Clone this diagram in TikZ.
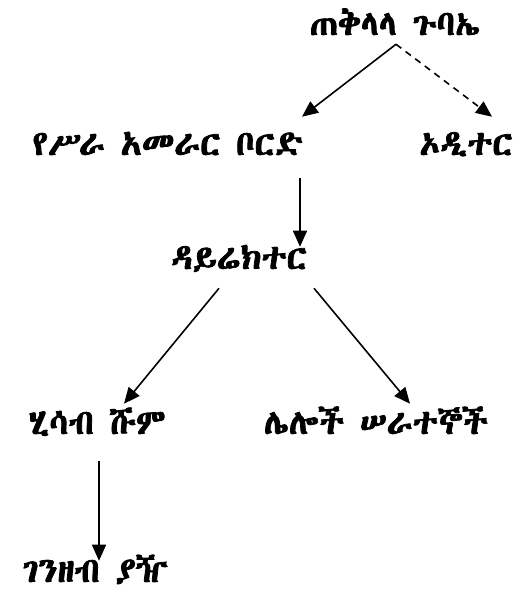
\documentclass[tikz,border=0pt]{standalone}
\usepackage{fontspec}
\usetikzlibrary{arrows.meta,calc}
\IfFontExistsTF{Abyssinica SIL}{\newfontfamily\geez{Abyssinica SIL}[FakeBold=2.2]}{%
\IfFontExistsTF{Noto Sans Ethiopic}{\newfontfamily\geez{Noto Sans Ethiopic}[FakeBold=2.2]}{%
\newfontfamily\geez{FreeSerif}[FakeBold=2.2]}}
\tikzset{
  lbl/.style={inner sep=0pt, text height=16.5pt, text depth=0pt,
    font=\geez\fontsize{26}{30}\selectfont},
  arr/.style={-{Triangle[length=12pt,width=10.5pt]}, line width=1.2pt},
  dashline/.style={dash pattern=on 5pt off 4pt}
}
\begin{document}
\begin{tikzpicture}[x=0.75pt,y=-0.75pt]
\useasboundingbox (0,0) rectangle (519,592);

\node[lbl] (gen) at (395,24){ጠቅላላ ጉባኤ};
\node[lbl] (board) at (168,144){የሥራ አመራር ቦርድ};
\node[lbl] (audit) at (466,144){ኦዲተር};
\node[lbl] (dir) at (239,258){ዳይሬክተር};
\node[lbl] (acct) at (97,423){ሂሳብ ሹም};
\node[lbl] (staff) at (376,423){ሌሎች ሠራተኞች};
\node[lbl] (cash) at (95,571){ገንዘብ ያዥ};

\draw[arr] ($(gen.south)+(1,9)$) -- ($(board.north)+(134,-16)$);
\draw[arr,dashline] ($(gen.south)+(1,9)$) -- ($(audit.north)+(26,-16)$);
\draw[arr] ($(board.south)+(132,23)$) -- ($(dir.north)+(61,0)$);
\draw[arr] ($(dir.south)+(-20,19)$) -- ($(acct.north)+(27,-8)$);
\draw[arr] ($(dir.south)+(75,19)$) -- ($(staff.north)+(34,-8)$);
\draw[arr] ($(acct.south)+(2,27)$) -- ($(cash.north)+(4,1)$);

\end{tikzpicture}
\end{document}
